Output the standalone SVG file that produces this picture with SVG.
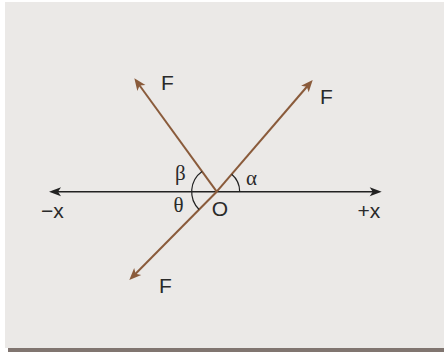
<svg xmlns="http://www.w3.org/2000/svg" width="444" height="352" viewBox="0 0 444 352">
  <style>
    .force { stroke: #8a5b3b; stroke-width: 2; fill: none; }
    .axis { stroke: #222222; stroke-width: 1.5; fill: none; }
    .arc { stroke: #222222; stroke-width: 1.2; fill: none; }
    .lbl { font-family: "Liberation Sans", Arial, sans-serif; font-size: 21px; fill: #2a2a2a; }
    .greek { font-family: "Liberation Serif", "Times New Roman", serif; font-size: 21px; fill: #2a2a2a; }
  </style>
  <defs>
    <marker id="ahF" markerUnits="userSpaceOnUse" viewBox="-9 -6 14 12" markerWidth="14" markerHeight="12" refX="0" refY="0" orient="auto">
      <path d="M4,0 L-8,-5 L-5,0 L-8,5 Z" fill="#8a5b3b"/>
    </marker>
    <marker id="ahA" markerUnits="userSpaceOnUse" viewBox="-9 -6 14 12" markerWidth="14" markerHeight="12" refX="0" refY="0" orient="auto">
      <path d="M4,0 L-8,-4.5 L-5,0 L-8,4.5 Z" fill="#222222"/>
    </marker>
  </defs>
  <rect x="5" y="2" width="439" height="346" fill="#ebe9e7"/>
  <rect x="8" y="348" width="436" height="4" fill="#807570"/>
  <g id="connectors">
    <line id="axis-neg" class="axis" x1="216.7" y1="191.7" x2="53" y2="191.7" marker-end="url(#ahA)"/>
    <line id="axis-pos" class="axis" x1="216.7" y1="191.7" x2="377.7" y2="191.7" marker-end="url(#ahA)"/>
    <line id="force-ul" class="force" x1="216.7" y1="191.7" x2="136.7" y2="81.5" marker-end="url(#ahF)"/>
    <line id="force-ur" class="force" x1="216.7" y1="191.7" x2="310.1" y2="83.0" marker-end="url(#ahF)"/>
    <line id="force-ll" class="force" x1="216.7" y1="191.7" x2="132.1" y2="277.2" marker-end="url(#ahF)"/>
  </g>
  <g id="angles">
    <path id="arc-alpha" class="arc" d="M239.7,191.7 A23,23 0 0 0 231.7,174.3"/>
    <path id="arc-beta-theta" class="arc" d="M202,171.5 A25,25 0 0 0 199.1,209.5"/>
  </g>
  <g id="labels">
    <text class="lbl" x="161" y="89.5">F</text>
    <text class="lbl" x="320" y="103.7">F</text>
    <text class="lbl" x="159" y="292.7">F</text>
    <text class="lbl" x="211.7" y="216">O</text>
    <text class="lbl" x="41" y="218.3">−x</text>
    <text class="lbl" x="357.5" y="218.3">+x</text>
    <text class="greek" x="175" y="180">β</text>
    <text class="greek" x="173.5" y="211.7">θ</text>
    <text class="greek" x="246" y="185">α</text>
  </g>
</svg>
